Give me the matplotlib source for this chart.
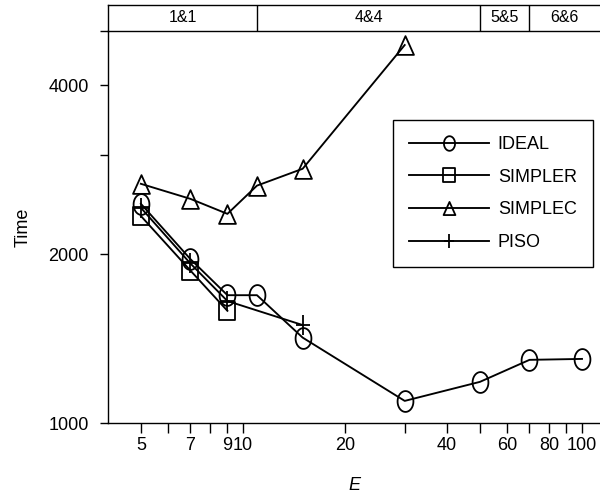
import numpy as np
import matplotlib
matplotlib.use("Agg")
import matplotlib.pyplot as plt
from matplotlib.path import Path

plt.rcParams['font.family'] = ['Liberation Sans', 'DejaVu Sans']

# ---- data ----
E_ideal = [5, 7, 9, 11, 15, 30, 50, 70, 100]
T_ideal = [2460, 1960, 1690, 1690, 1420, 1095, 1184, 1296, 1301]
E_simpler = [5, 7, 9]
T_simpler = [2340, 1870, 1585]
E_simplec = [5, 7, 9, 11, 15, 30]
T_simplec = [2670, 2510, 2360, 2650, 2840, 4720]
E_piso = [5, 7, 9, 15]
T_piso = [2420, 1925, 1650, 1495]

band_edges = [4, 11, 50, 70, 113]
band_labels = ['1&1', '4&4', '5&5', '6&6']

x_ticks = [5, 6, 7, 8, 9, 10, 20, 30, 40, 50, 60, 70, 80, 90, 100]
x_ticklabels = ['5', '', '7', '', '9', '10', '20', '', '40', '', '60', '', '80', '', '100']
y_ticks = [1000, 2000, 3000, 4000, 5000]
y_ticklabels = ['1000', '2000', '', '4000', '']

# ---- custom (vertically stretched) markers ----
t = np.linspace(0, 2 * np.pi, 60)
ellipse = Path(np.column_stack([0.76 * np.cos(t), np.sin(t)]), closed=True)
square = Path([(-0.85, -1), (0.85, -1), (0.85, 1), (-0.85, 1), (-0.85, -1)], closed=True)
triangle = Path([(0, 1), (-0.9, -1), (0.9, -1), (0, 1)], closed=True)
plus = Path([(-0.7, 0), (0.7, 0), (0, -1), (0, 1)],
            [Path.MOVETO, Path.LINETO, Path.MOVETO, Path.LINETO])

fig = plt.figure(figsize=(6, 4.96), dpi=100)
L, R = 108 / 600, 1.0
B, T = 1 - 423 / 496, 1 - 31 / 496
ax = fig.add_axes([L, B, R - L, T - B])

common = dict(color='black', lw=1.35, mfc='none', mec='black', mew=1.3)
ax.plot(E_ideal, T_ideal, marker=ellipse, ms=15, label='IDEAL', **common)
ax.plot(E_simpler, T_simpler, marker=square, ms=13.5, label='SIMPLER', **common)
ax.plot(E_simplec, T_simplec, marker=triangle, ms=13.5, label='SIMPLEC', **common)
ax.plot(E_piso, T_piso, marker=plus, ms=14, label='PISO', **common)

ax.set_xscale('log')
ax.set_yscale('log')
ax.set_xlim(band_edges[0], band_edges[-1])
ax.set_ylim(1000, 5000)
ax.set_xticks(x_ticks)
ax.set_xticklabels(x_ticklabels)
ax.set_yticks(y_ticks)
ax.set_yticklabels(y_ticklabels)
ax.minorticks_off()
ax.tick_params(axis='x', direction='out', length=7, width=1.0, pad=3, labelsize=13)
ax.tick_params(axis='y', direction='out', length=6, width=1.0, pad=8, labelsize=13)
for s in ['top', 'right']:
    ax.spines[s].set_visible(False)
for s in ['left', 'bottom']:
    ax.spines[s].set_linewidth(1.0)
ax.set_xlabel('E', fontstyle='italic', fontsize=13, labelpad=17)
ax.set_ylabel('Time', fontsize=13, labelpad=12)

leg = ax.legend(loc='upper left', bbox_to_anchor=(393 / 600, 1 - 120 / 496),
                bbox_transform=fig.transFigure, borderaxespad=0,
                fontsize=13, handlelength=4.4, handletextpad=0.5,
                labelspacing=0.86, borderpad=0.9, markerscale=0.7,
                fancybox=False, framealpha=1, edgecolor='black')
leg.get_frame().set_linewidth(1.0)

# ---- top band ----
bax = fig.add_axes([L, T, R - L, (31 - 5) / 496])
bax.set_xscale('log')
bax.set_xlim(band_edges[0], band_edges[-1])
bax.set_ylim(0, 1)
bax.set_xticks([])
bax.set_yticks([])
bax.minorticks_off()
bax.spines['right'].set_visible(False)
for s in ['top', 'left', 'bottom']:
    bax.spines[s].set_linewidth(1.0)
for e in band_edges[1:-1]:
    bax.axvline(e, color='black', lw=1.0)
for i, lab in enumerate(band_labels):
    xm = np.sqrt(band_edges[i] * band_edges[i + 1])
    bax.text(xm, 0.5, lab, ha='center', va='center', fontsize=11.5)

fig.savefig('out.png', dpi=100)
